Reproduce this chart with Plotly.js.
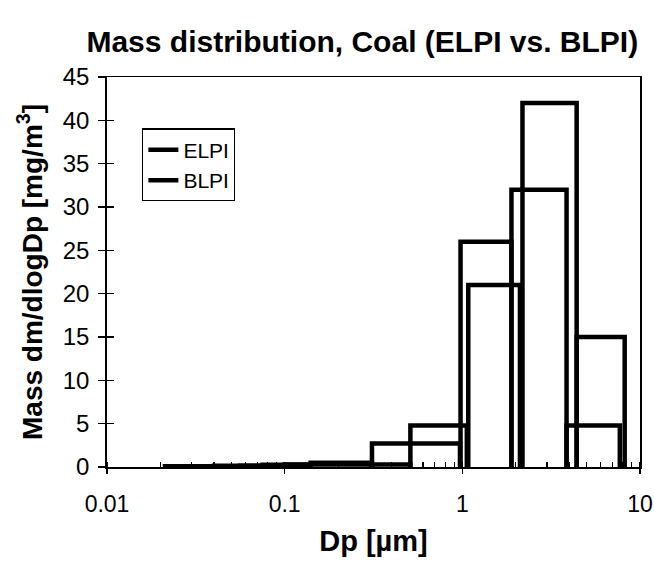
<!DOCTYPE html>
<html>
<head>
<meta charset="utf-8">
<script src="https://cdn.plot.ly/plotly-3.0.1.min.js"></script>
<style>html,body{margin:0;padding:0;background:#fff;}#chart{width:654px;height:572px;}</style>
</head>
<body>
<div id="chart"></div>
<script>
// Bin edges (µm) and mass dm/dlogDp values (mg/m3)
const elpiLeft  = [0.028, 0.056, 0.10, 0.51, 1.08, 2.18, 4.4];
const elpiRight = [0.056, 0.10, 0.51, 1.06, 2.11, 4.4, 8.2];
const elpiValue = [0.1, 0.15, 0.3, 4.8, 21, 42, 15];

const blpiLeft  = [0.0212, 0.04, 0.075, 0.14, 0.31, 0.977, 1.89, 3.86];
const blpiRight = [0.04, 0.075, 0.14, 0.31, 0.97, 1.89, 3.86, 7.7];
const blpiValue = [0.1, 0.15, 0.25, 0.5, 2.7, 26, 32, 4.8];

const xTickVals = [0.01, 0.1, 1, 10];
const xTickText = ['0.01', '0.1', '1', '10'];

function boxes(L, R, V) {
  const x = [], y = [];
  for (let i = 0; i < V.length; i++) {
    x.push(L[i], L[i], R[i], R[i], null);
    y.push(0, V[i], V[i], 0, null);
  }
  return {x, y};
}
const e = boxes(elpiLeft, elpiRight, elpiValue);
const b = boxes(blpiLeft, blpiRight, blpiValue);

const FONT = 'Liberation Sans, Arial, sans-serif';
const traces = [
  {x: e.x, y: e.y, name: 'ELPI', mode: 'lines', type: 'scatter',
   line: {color: '#000', width: 4.5}, connectgaps: false},
  {x: b.x, y: b.y, name: 'BLPI', mode: 'lines', type: 'scatter',
   line: {color: '#000', width: 4.5}, connectgaps: false},
  // invisible helper for inside tick marks
  {x: [0.01, 10], y: [0, 45], xaxis: 'x2', yaxis: 'y2', mode: 'none', showlegend: false, hoverinfo: 'skip'}
];

const layout = {
  width: 654, height: 572,
  margin: {l: 107, r: 14, t: 77, b: 105},
  paper_bgcolor: '#fff', plot_bgcolor: '#fff',
  font: {family: FONT, color: '#000', size: 22},
  title: {text: '<b>Mass distribution, Coal (ELPI vs. BLPI)</b>', x: 0.554, xanchor: 'center',
          y: 0.927, yanchor: 'middle', font: {size: 30, family: FONT}},
  showlegend: true,
  legend: {x: 0.066, y: 0.868, xanchor: 'left', yanchor: 'top', bgcolor: '#fff',
           bordercolor: '#000', borderwidth: 1.2, font: {size: 21, family: FONT},
           tracegroupgap: 4},
  xaxis: {type: 'log', range: [-2, 1], tickvals: xTickVals, ticktext: xTickText,
          ticks: 'outside', ticklen: 5, tickwidth: 1.2, tickcolor: '#000',
          showline: true, linecolor: '#000', linewidth: 1.5, mirror: true,
          showgrid: false, zeroline: false, ticklabelstandoff: 11,
          tickfont: {size: 23},
          minor: {dtick: 'D1', ticks: 'inside', ticklen: 5, tickwidth: 1.2, tickcolor: '#000', showgrid: false},
          title: {text: '<b>Dp [µm]</b>', font: {size: 29, family: FONT}, standoff: 14}},
  yaxis: {range: [0, 45], dtick: 5, ticks: 'outside', ticklen: 7, tickwidth: 1.2, tickcolor: '#000',
          showline: true, linecolor: '#000', linewidth: 1.8, mirror: true,
          showgrid: false, zeroline: false, ticklabelstandoff: 4,
          tickfont: {size: 24},
          title: {text: '<b>Mass dm/dlogDp [mg/m<sup>3</sup>]</b>', font: {size: 28, family: FONT}, standoff: 12}},
  xaxis2: {type: 'log', range: [-2, 1], overlaying: 'x', tickvals: xTickVals, ticks: 'inside', ticklen: 5,
           tickwidth: 1.2, tickcolor: '#000', showticklabels: false, showgrid: false, zeroline: false, showline: false},
  yaxis2: {range: [0, 45], overlaying: 'y', dtick: 5, ticks: 'inside', ticklen: 7, tickwidth: 1.2, tickcolor: '#000',
           showticklabels: false, showgrid: false, zeroline: false, showline: false}
};

Plotly.newPlot('chart', traces, layout, {staticPlot: true, displayModeBar: false});
</script>
</body>
</html>
